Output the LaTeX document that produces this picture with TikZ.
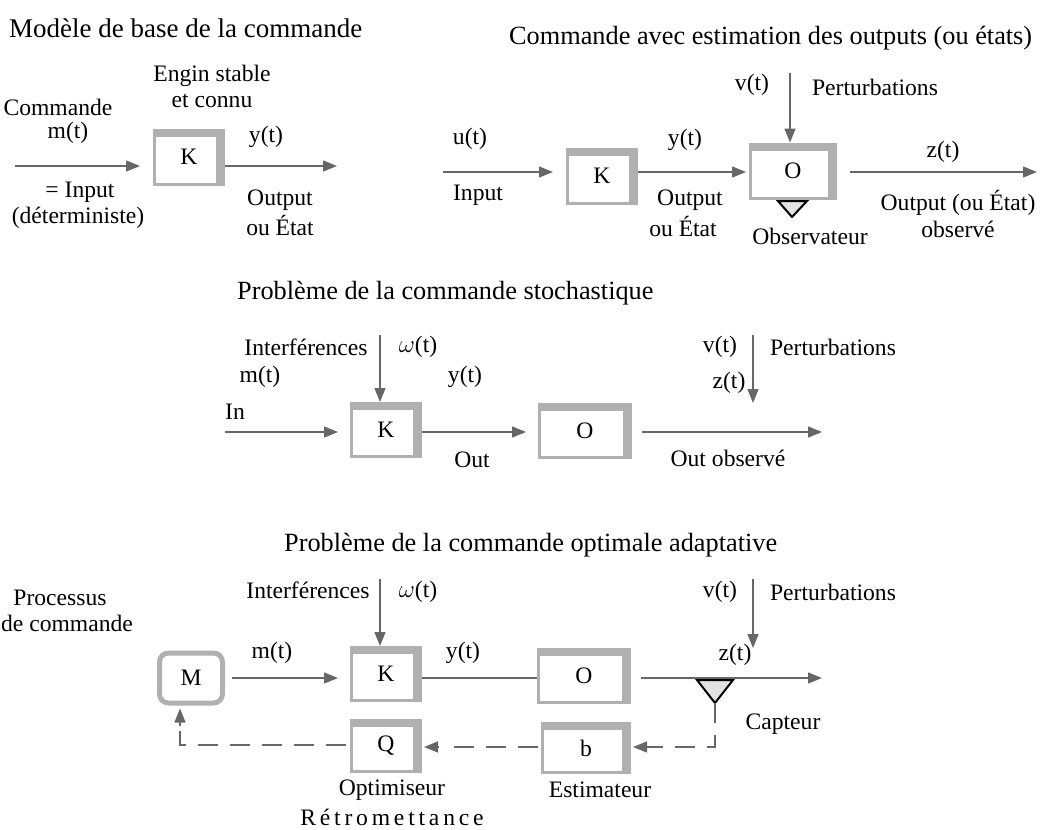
\documentclass[tikz,border=0pt]{standalone}
\usepackage{fontspec}
\setmainfont{Liberation Serif}
\usetikzlibrary{arrows.meta,calc}
\definecolor{boxgray}{HTML}{B0B0B0}
\definecolor{linegray}{HTML}{676767}
\definecolor{trigray}{HTML}{E2E2E2}
\tikzset{
  lbl/.style={font=\fontsize{23.6}{26}\selectfont, inner sep=0pt},
  ttl/.style={font=\fontsize{26.3}{29}\selectfont, inner sep=0pt, anchor=west},
  gbox/.style n args={2}{draw=boxgray, line width=3pt, fill=white, inner sep=0pt,
    minimum width=#1-3, minimum height=#2-3, font=\fontsize{23.6}{26}\selectfont,
    path picture={
      \fill[boxgray] (path picture bounding box.north west) rectangle ([yshift=-6.5pt]path picture bounding box.north east);
      \fill[boxgray] ([xshift=-8pt]path picture bounding box.north east) rectangle (path picture bounding box.south east);
    }},
  mbox/.style={draw=boxgray, line width=5pt, fill=white, rounded corners=9pt, inner sep=0pt,
    minimum width=63, minimum height=50, font=\fontsize{23.6}{26}\selectfont},
  arr/.style={draw=linegray, line width=1.4pt, -{Triangle[length=14pt,width=11pt]}},
  ln/.style={draw=linegray, line width=1.4pt},
  dsh/.style={draw=linegray, line width=1.4pt, dash pattern=on 20pt off 12pt},
  tri/.style={draw=black, line width=2pt, fill=trigray, line join=miter},
}
\begin{document}
\begin{tikzpicture}[x=1pt,y=-1pt]
\useasboundingbox (0,0) rectangle (1045,830);

% ---------- Panel 1 ----------
\node[ttl, font=\fontsize{27}{29}\selectfont] (t1) at (9,28) {Modèle de base de la commande};
\node[lbl] (e1) at (212,76) {Engin stable};
\node[lbl] (e2) at (212,101) {et connu};
\node[lbl] (c1) at (58,107) {Commande};
\node[lbl] (c2) at (68,133) {m(t)};
\node[gbox={72}{57}] (K1) at (189,157) {K};
\coordinate (i1) at (15,166);
\draw[arr] (i1) -- ($(i1 -| K1.west)+(-13,0)$);
\coordinate (o1) at (337,166);
\draw[arr] (o1 -| K1.east) -- (o1);
\node[lbl] (y1) at (266,137) {y(t)};
\node[lbl] (in1) at (80,192) {= Input};
\node[lbl] (in2) at (78,218) {(déterministe)};
\node[lbl] (ou1) at (280,200) {Output};
\node[lbl] (ou2) at (280,225) {ou État};

% ---------- Panel 2 ----------
\node[ttl] (t2) at (509,38) {Commande avec estimation des outputs (ou états)};
\node[gbox={72}{57}] (K2) at (602,176) {K};
\node[gbox={88}{57}] (O2) at (793,171) {O};
\coordinate (i2) at (443,172);
\coordinate (i2e) at (553,172);
\draw[arr] (i2) -- (i2e);
\node[lbl] (u2) at (470,139) {u(t)};
\node[lbl] (inp2) at (478,195) {Input};
\coordinate (y2e) at (746,172);
\draw[arr] (K2.east |- y2e) -- (y2e);
\node[lbl] (y2) at (685,140) {y(t)};
\node[lbl] (ou21) at (690,200) {Output};
\node[lbl] (ou22) at (683,226) {ou État};
\coordinate (v2s) at (790,73);
\draw[arr] (v2s) -- (v2s |- O2.north);
\node[lbl] (v2) at (752,85) {v(t)};
\node[lbl] (p2) at (875,87) {Perturbations};
\coordinate (z2s) at (850,172);
\coordinate (z2e) at (1037,172);
\draw[arr] (z2s) -- (z2e);
\node[lbl] (z2) at (943,152) {z(t)};
\node[lbl] (oo1) at (958,203) {Output (ou État)};
\node[lbl] (oo2) at (958,229) {observé};
\coordinate (obs) at (792,217);
\draw[tri] (778,201) -- (807,201) -- (obs) -- cycle;
\node[lbl] (ob) at (810,236) {Observateur};

% ---------- Panel 3 ----------
\node[ttl] (t3) at (237,293) {Problème de la commande stochastique};
\node[gbox={72}{56}] (K3) at (386,430) {K};
\node[gbox={94}{56}] (O3) at (585,431) {O};
\node[lbl] (if3) at (306,347) {Interférences};
\node[lbl] (w3) at (418,347) {$\omega$(t)};
\coordinate (w3s) at (380,335);
\draw[arr] (w3s) -- (w3s |- K3.north);
\node[lbl] (v3) at (720,347) {v(t)};
\node[lbl] (p3) at (833,347) {Perturbations};
\coordinate (v3s) at (753,335);
\draw[arr] (v3s) -- (v3s |- O3.north);
\node[lbl] (m3) at (260,377) {m(t)};
\node[lbl] (in3) at (235,412) {In};
\coordinate (i3) at (225,432);
\draw[arr] (i3) -- ($(i3 -| K3.west)+(-12,0)$);
\node[lbl] (y3) at (465,377) {y(t)};
\draw[arr] (K3.east |- i3) -- ($(i3 -| O3.west)+(-12,0)$);
\node[lbl] (out3) at (472,460) {Out};
\coordinate (z3e) at (822,432);
\draw[arr] ($(O3.east |- i3)+(10,0)$) -- (z3e);
\node[lbl] (z3) at (729,383) {z(t)};
\node[lbl] (ob3) at (728,458) {Out observé};

% ---------- Panel 4 ----------
\node[ttl] (t4) at (284,545) {Problème de la commande optimale adaptative};
\node[lbl] (pr1) at (60,598) {Processus};
\node[lbl] (pr2) at (67,623) {de commande};
\node[mbox] (M) at (191,678) {M};
\node[gbox={72}{56}] (K4) at (386,674) {K};
\node[gbox={94}{56}] (O4) at (584,676) {O};
\node[gbox={72}{54}] (Q) at (386,746) {Q};
\node[gbox={90}{52}] (B) at (586,748) {b};
\node[lbl] (if4) at (308,590) {Interférences};
\node[lbl] (w4) at (418,592) {$\omega$(t)};
\coordinate (w4s) at (380,579);
\draw[arr] (w4s) -- (w4s |- K4.north);
\node[lbl] (v4) at (720,592) {v(t)};
\node[lbl] (p4) at (833,592) {Perturbations};
\coordinate (v4s) at (753,579);
\draw[arr] (v4s) -- (v4s |- O4.north);
\node[lbl] (m4) at (272,653) {m(t)};
\coordinate (mm) at (232,678);
\draw[arr] (mm) -- ($(mm -| K4.west)+(-12,0)$);
\node[lbl] (y4) at (463,653) {y(t)};
\draw[ln] (K4.east |- mm) -- (O4.west |- mm);
\coordinate (z4e) at (822,678);
\draw[arr] ($(O4.east |- mm)+(10,0)$) -- (z4e);
\node[lbl] (z4) at (735,655) {z(t)};
\coordinate (cap) at (715,703);
\draw[tri] (697,680) -- (733,680) -- (cap) -- cycle;
\node[lbl] (ca) at (783,724) {Capteur};
\coordinate (d1) at (715,747);
\draw[dsh] (cap) -- (d1) -- ($(B.east |- d1)+(0,0)$);
\draw[draw=linegray, line width=1.4pt, -{Triangle[length=14pt,width=11pt]}] ($(B.east |- d1)+(14,0)$) -- ($(B.east |- d1)+(2,0)$);
\node[lbl] (es) at (600,790) {Estimateur};
\coordinate (d2) at (538,747);
\draw[dsh] (d2) -- ($(Q.east |- d2)+(20,0)$);
\draw[draw=linegray, line width=1.4pt, -{Triangle[length=14pt,width=11pt]}] ($(Q.east |- d2)+(16,0)$) -- ($(Q.east |- d2)+(2,0)$);
\node[lbl] (op) at (392,790) {Optimiseur};
\coordinate (d3) at (180,745);
\draw[dsh] ($(Q.west |- d3)+(-4,0)$) -- (d3) -- ($(M.south -| d3)+(0,18)$);
\draw[draw=linegray, line width=1.4pt, -{Triangle[length=14pt,width=11pt]}] ($(M.south -| d3)+(0,20)$) -- ($(M.south -| d3)+(0,3)$);
\node[lbl, anchor=base] (re) at (392,825) {R\hspace{3.8pt}é\hspace{3.8pt}t\hspace{3.8pt}r\hspace{3.8pt}o\hspace{3.8pt}m\hspace{3.8pt}e\hspace{3.8pt}t\hspace{3.8pt}t\hspace{3.8pt}a\hspace{3.8pt}n\hspace{3.8pt}c\hspace{3.8pt}e};
\end{tikzpicture}
\end{document}
